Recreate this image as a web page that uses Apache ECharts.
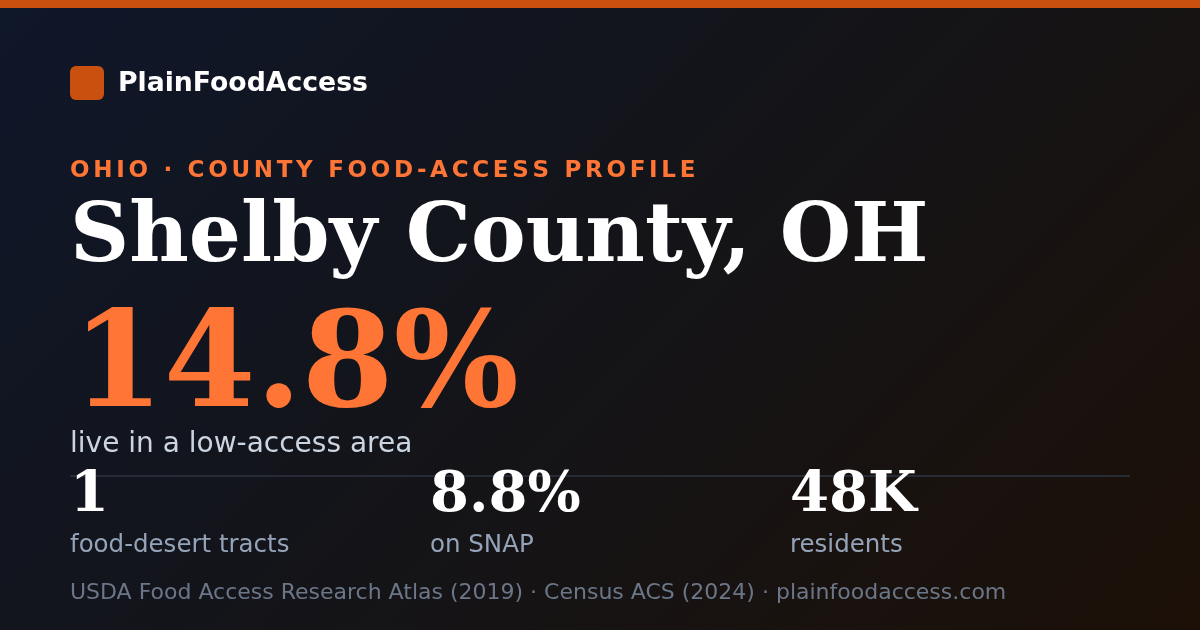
<!DOCTYPE html>
<html><head><meta charset="utf-8">
<script src="https://cdn.jsdelivr.net/npm/echarts@6/dist/echarts.min.js"></script>
<style>html,body{margin:0;padding:0;background:#141418}#c{width:1200px;height:630px}</style>
</head><body><div id="c"></div>
<script>
const brand = "PlainFoodAccess";
const kicker = "OHIO · COUNTY FOOD-ACCESS PROFILE";
const county = "Shelby County, OH";
const headlineValue = "14.8%";
const headlineLabel = "live in a low-access area";
const statValues = ["1", "8.8%", "48K"];
const statLabels = ["food-desert tracts", "on SNAP", "residents"];
const footer = "USDA Food Access Research Atlas (2019) · Census ACS (2024) · plainfoodaccess.com";

const chart = echarts.init(document.getElementById('c'), null, {renderer: 'canvas'});
const SANS = '"DejaVu Sans", sans-serif';
const SERIF = '"DejaVu Serif", serif';
const ORANGE = '#ff7535';

const elements = [
  {type:'rect', shape:{x:0,y:0,width:1200,height:630}, z:0,
   style:{fill:new echarts.graphic.LinearGradient(142.5,-142.5,1057.5,772.5,[
     {offset:0,color:'#0f172a'},{offset:0.5,color:'#141418'},{offset:1,color:'#1c1007'}], true)}},
  {type:'rect', shape:{x:0,y:0,width:1200,height:8}, z:1, style:{fill:'#c9500e'}},
  {type:'rect', shape:{x:70,y:66,width:34,height:34,r:6}, z:1, style:{fill:'#c9500e'}},
  {type:'text', x:118, y:84, z:2, style:{text:brand, font:'bold 26.7px '+SANS, fill:'#ffffff', verticalAlign:'middle'}},
  {type:'text', x:70, y:199, z:2, style:{text:county, font:'bold 82px '+SERIF, fill:'#ffffff'}},
  {type:'text', x:72, y:306, z:2, style:{text:headlineValue, font:'bold 132px '+SERIF, fill:ORANGE}},
  {type:'text', x:70, y:431, z:2, style:{text:headlineLabel, font:'28px '+SANS, fill:'#cbd5e1'}},
  {type:'line', shape:{x1:70,y1:476,x2:1130,y2:476}, z:1, style:{stroke:'#262b36', lineWidth:2}},
  {type:'text', x:70, y:582, z:2, style:{text:footer, font:'22px '+SANS, fill:'#6b7688'}}
];

// kicker with letter spacing: place glyphs along measured advances
const kFont = 'bold 23px ' + SANS;
const mctx = document.createElement('canvas').getContext('2d');
mctx.font = kFont;
let kx = 70;
for (const ch of kicker) {
  elements.push({type:'text', x:kx, y:160, z:2, style:{text:ch, font:kFont, fill:ORANGE}});
  kx += mctx.measureText(ch).width + 3.7;
}

statValues.forEach((v,i)=>{
  elements.push({type:'text', x:70+360*i, y:468, z:2, style:{text:v, font:'bold 56px '+SERIF, fill:'#ffffff'}});
  elements.push({type:'text', x:70+360*i, y:533, z:2, style:{text:statLabels[i], font:'24.5px '+SANS, fill:'#94a3b8'}});
});
chart.setOption({animation:false, graphic:{elements}});
</script></body></html>
